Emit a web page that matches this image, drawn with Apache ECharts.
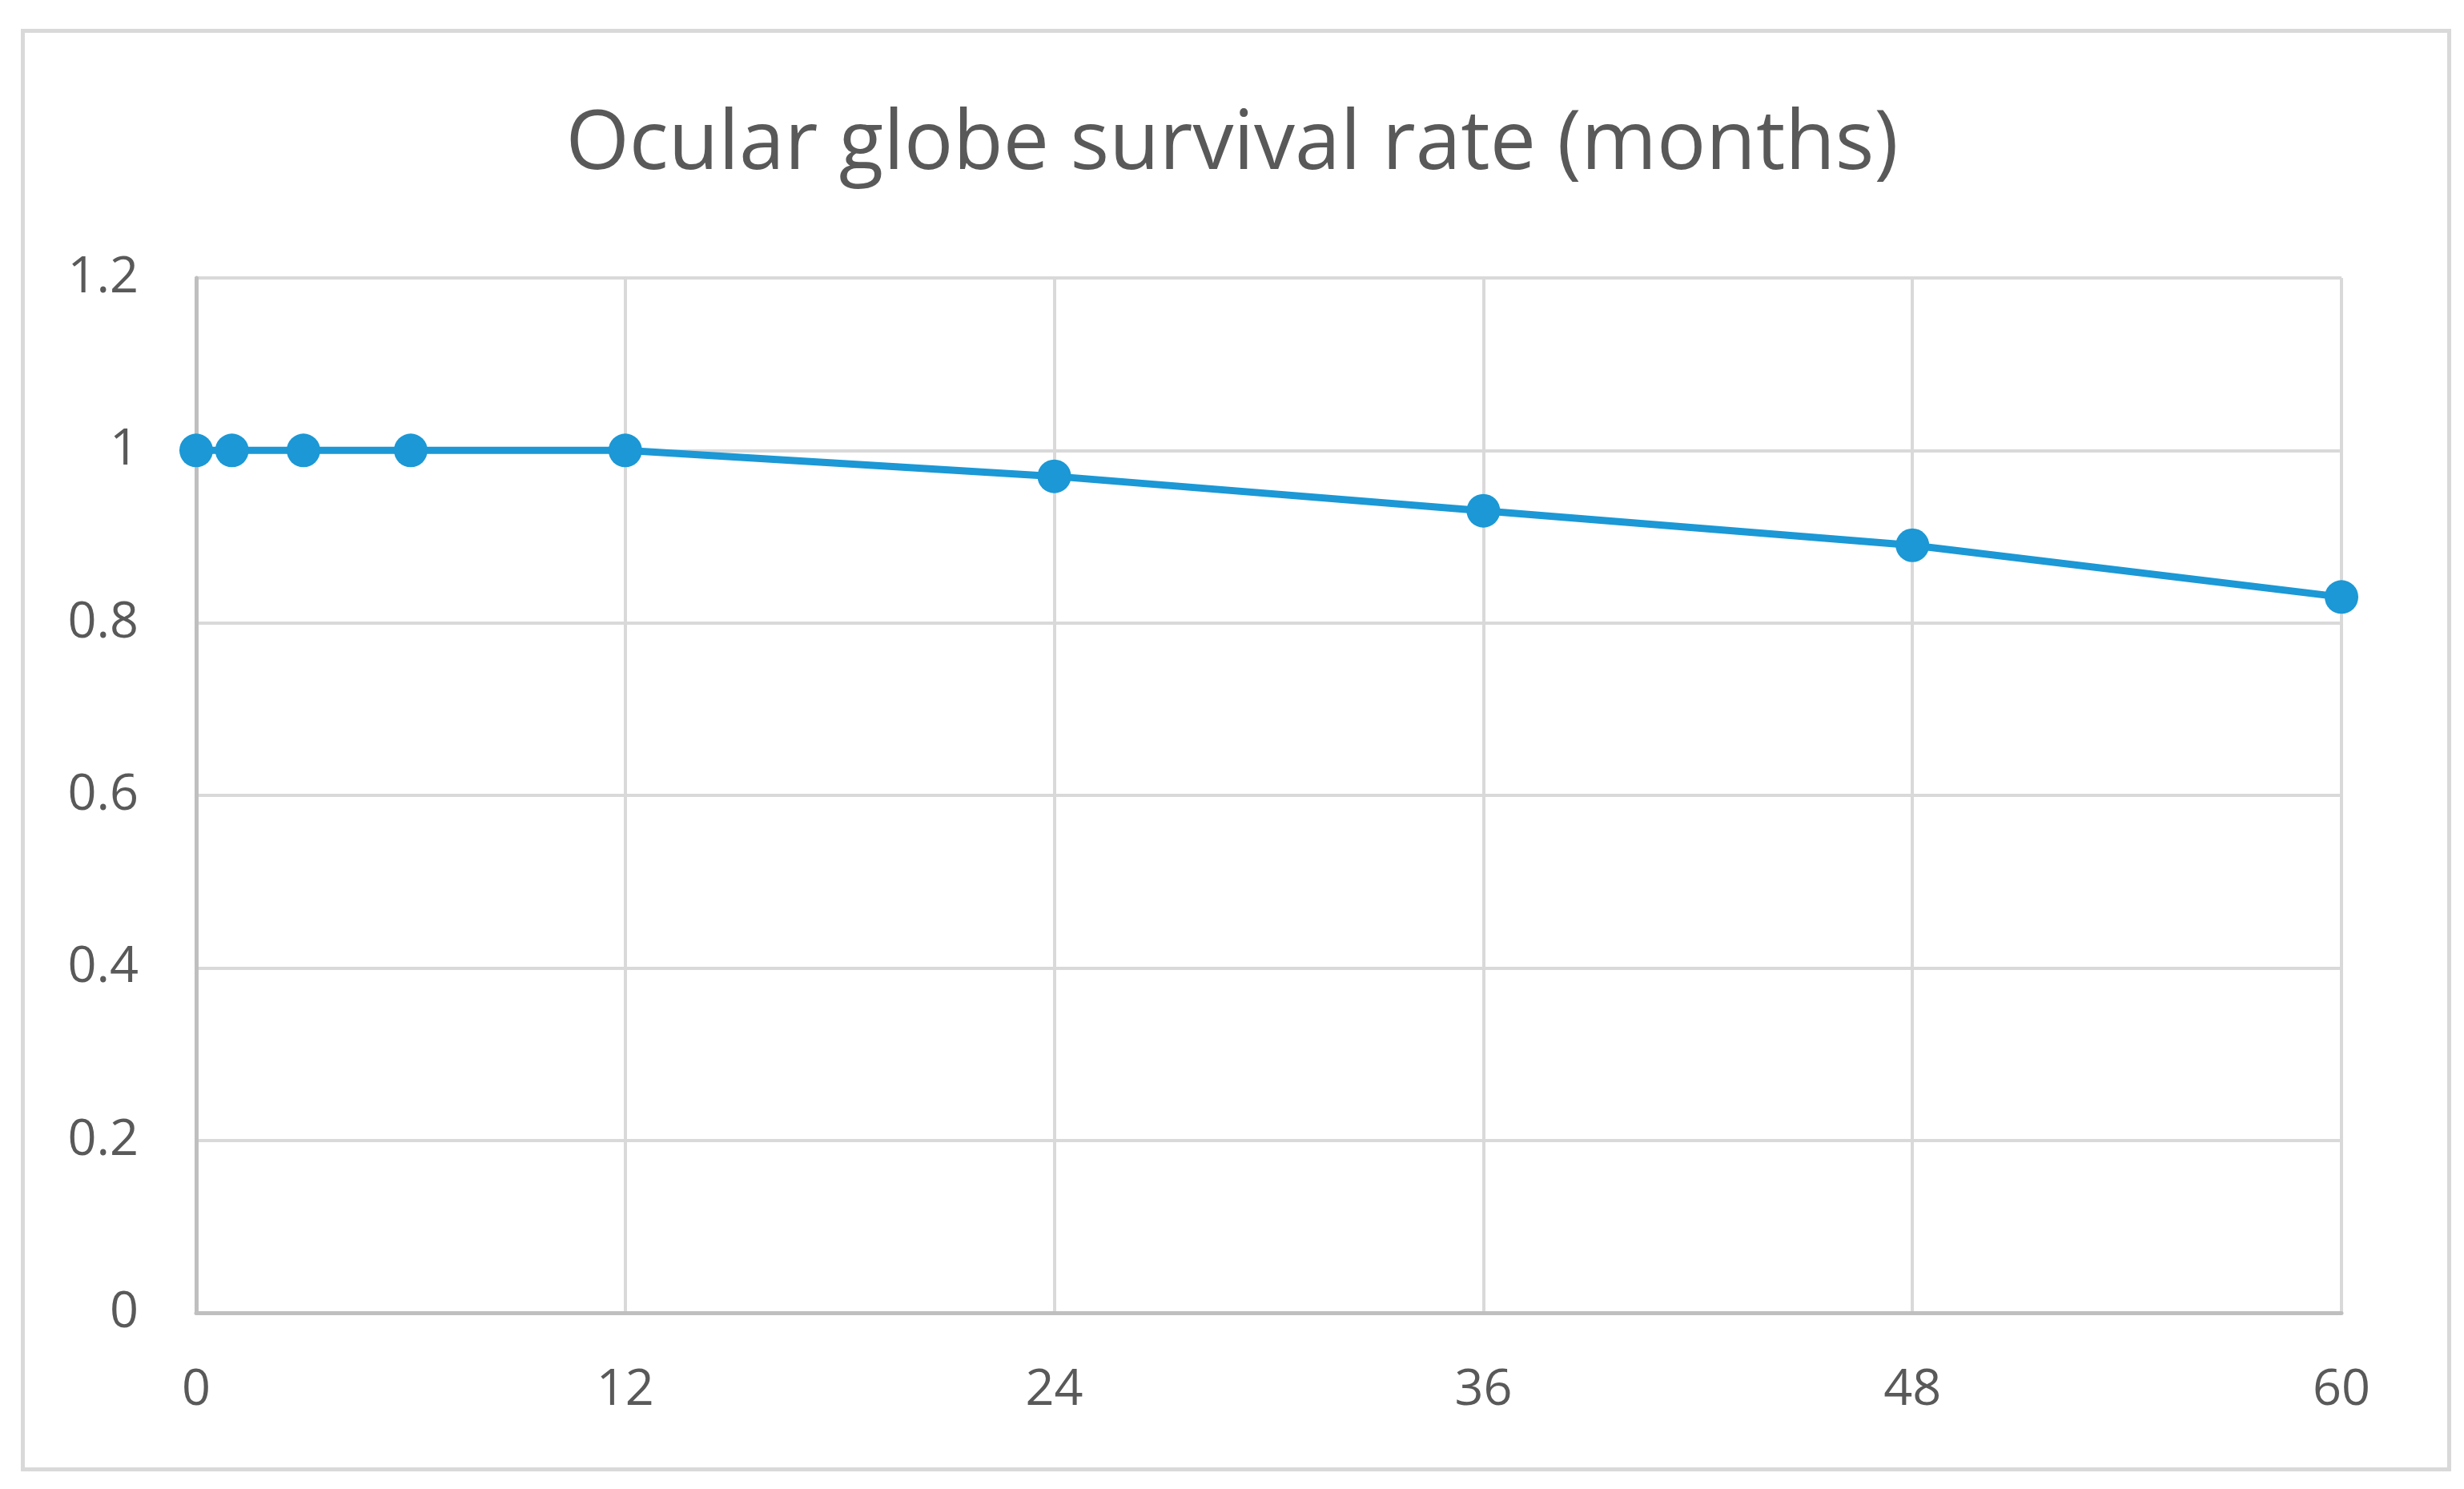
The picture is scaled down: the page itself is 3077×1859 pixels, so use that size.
<!DOCTYPE html>
<html><head><meta charset="utf-8">
<script src="https://cdn.jsdelivr.net/npm/echarts@6/dist/echarts.min.js"></script>
<style>html,body{margin:0;padding:0;background:#fff}#c{width:3077px;height:1859px}</style>
</head><body><div id="c"></div>
<script>
const titleText = "Ocular globe survival rate (months)";
const months = [0, 1, 3, 6, 12, 24, 36, 48, 60];
const survival = [1, 1, 1, 1, 1, 0.97, 0.93, 0.89, 0.83];
const xTicks = [0, 12, 24, 36, 48, 60];
const yTicks = [0, 0.2, 0.4, 0.6, 0.8, 1, 1.2];

const FONT = "Open Sans";
const chart = echarts.init(document.getElementById('c'));
chart.setOption({
  backgroundColor: '#ffffff',
  animation: false,
  graphic: [{
    type: 'rect', left: 26, top: 36, z: -1,
    shape: { width: 3030, height: 1796 },
    style: { fill: '#ffffff', stroke: '#D9D9D9', lineWidth: 5 }
  }],
  title: {
    text: titleText, left: 'center', top: 126,
    textStyle: { fontFamily: FONT, fontSize: 102, fontWeight: 'normal', color: '#595959' }
  },
  grid: { left: 245, right: 153, top: 347, bottom: 220, containLabel: false },
  xAxis: {
    type: 'value', min: xTicks[0], max: xTicks[xTicks.length - 1], interval: 12,
    axisLine: { show: true, lineStyle: { color: '#BFBFBF', width: 5 } },
    axisTick: { show: false },
    splitLine: { show: true, lineStyle: { color: '#D9D9D9', width: 4 } },
    axisLabel: { fontFamily: FONT, fontSize: 63, color: '#595959', margin: 66 }
  },
  yAxis: {
    type: 'value', min: yTicks[0], max: yTicks[yTicks.length - 1], interval: 0.2,
    axisLine: { show: true, lineStyle: { color: '#BFBFBF', width: 5 } },
    axisTick: { show: false },
    splitLine: { show: true, lineStyle: { color: '#D9D9D9', width: 4 } },
    axisLabel: { fontFamily: FONT, fontSize: 63, color: '#595959', margin: 72,
      formatter: v => String(Math.round(v * 10) / 10) }
  },
  series: [{
    type: 'line',
    data: months.map((m, i) => [m, survival[i]]),
    symbol: 'circle', symbolSize: 42,
    lineStyle: { color: '#1B98D5', width: 9 },
    itemStyle: { color: '#1B98D5' },
    clip: false
  }]
});
</script></body></html>
